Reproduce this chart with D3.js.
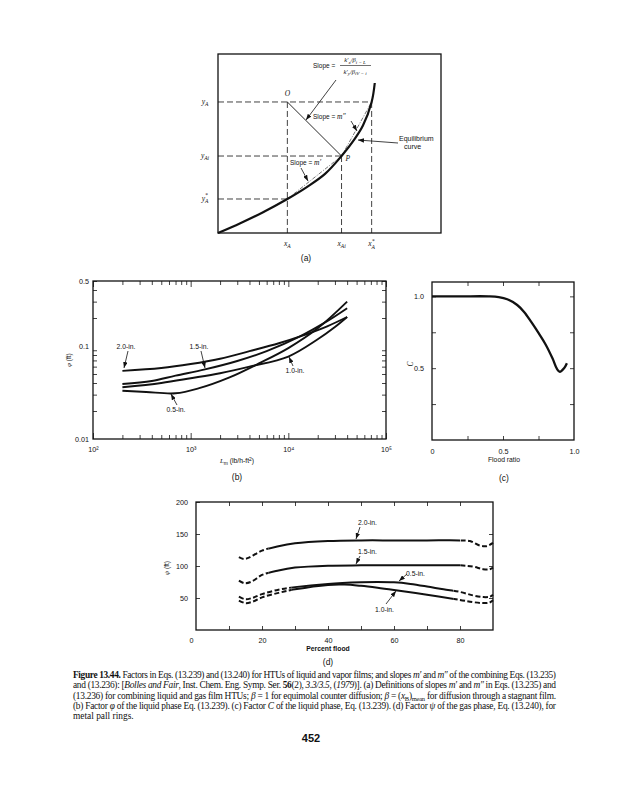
<!DOCTYPE html>
<html>
<head>
<meta charset="utf-8">
<script src="https://cdn.jsdelivr.net/npm/d3@7"></script>
<style>
  body { margin: 0; background: #fff; }
</style>
</head>
<body>
<div id="chart"></div>
<script>
// ---- panel (a): schematic equilibrium curve (arbitrary units 0..1)
const eqCurve = [[0, 0], [0.1, 0.055], [0.2, 0.115], [0.311, 0.19], [0.4, 0.258], [0.48, 0.33],
  [0.554, 0.43], [0.61, 0.52], [0.65, 0.6], [0.689, 0.732], [0.703, 0.838]];
const aXLevels = [0.311, 0.554, 0.689];   // xA, xAi, x*A
const aYLevels = [0.732, 0.43, 0.19];     // yA, yAi, y*A

// ---- panel (b): phi (ft) vs Lm (lb/h-ft2)
const bSizes = ["2.0-in.", "1.5-in.", "1.0-in.", "0.5-in."];
const phi20 = [[200, 0.054], [500, 0.058], [1000, 0.064], [2000, 0.073], [4000, 0.088], [8000, 0.107], [13000, 0.126], [25000, 0.163], [40000, 0.205]];
const phi15 = [[200, 0.039], [400, 0.042], [700, 0.048], [1400, 0.056], [3000, 0.069], [6000, 0.088], [13000, 0.126], [25000, 0.185], [40000, 0.255]];
const phi10 = [[200, 0.036], [500, 0.040], [1000, 0.045], [2000, 0.051], [4000, 0.06], [10000, 0.077], [20000, 0.118], [30000, 0.16], [40000, 0.205]];
const phi05 = [[200, 0.033], [350, 0.032], [700, 0.031], [1200, 0.035], [2500, 0.046], [5000, 0.065], [10000, 0.095], [20000, 0.155], [40000, 0.3]];
const bMajor = [1e2, 1e3, 1e4, 1e5];
const bYLabels = [0.01, 0.1, 0.5];

// ---- panel (c): C vs flood ratio
const cFlood = [0, 0.2, 0.4, 0.47, 0.53, 0.6, 0.65, 0.7, 0.75, 0.8, 0.85, 0.88, 0.9, 0.93, 0.95];
const cC = [1.0, 1.0, 1.0, 0.995, 0.98, 0.94, 0.89, 0.82, 0.745, 0.665, 0.565, 0.495, 0.475, 0.5, 0.535];

// ---- panel (d): psi (ft) vs percent flood
const dSizes = ["2.0-in.", "1.5-in.", "0.5-in.", "1.0-in."];
const psi20 = [[13, 114], [14.5, 111], [16, 113], [20, 124], [25, 131], [30, 135.5], [40, 139], [50, 140], [60, 140], [70, 140], [80, 140], [83, 139], [86, 132], [88, 131], [90, 136]];
const psi15 = [[13, 77], [14.8, 73], [17, 76], [20, 86], [25, 93], [30, 97.5], [40, 100.5], [50, 101], [60, 101], [70, 101], [80, 101], [84, 99], [87, 95], [89, 95], [90, 97.5]];
const psi05 = [[13, 52], [15, 48], [17, 50], [20, 56], [25, 63], [30, 67], [40, 72], [50, 74.5], [55, 75], [60, 74.5], [65, 72], [70, 68], [75, 63.5], [80, 59.5], [84, 54], [87, 51.5], [89, 52], [90, 55]];
const psi10 = [[13, 46], [15, 42], [17, 44], [20, 51], [25, 58], [30, 63.5], [40, 70.5], [45, 71], [50, 69], [55, 66], [60, 62.5], [70, 55], [80, 47], [84, 43.5], [87, 42], [89, 43], [90, 46.5]];
const dSolidFrom = [22, 22, 29, 29];
const dSolidTo = [80, 80, 78, 78];

const W = 619, H = 800;
const sans = "'Liberation Sans', Arial, sans-serif";
const serif = "'Liberation Serif', 'Times New Roman', serif";
const ink = "#111";

const svg = d3.select("#chart").append("svg")
  .attr("width", W).attr("height", H)
  .style("background", "#fff");

const defs = svg.append("defs");
defs.append("marker").attr("id", "arr")
  .attr("viewBox", "0 0 8 6").attr("refX", 8).attr("refY", 3)
  .attr("markerWidth", 6).attr("markerHeight", 4.5)
  .attr("markerUnits", "userSpaceOnUse").attr("orient", "auto")
  .append("path").attr("d", "M0,0L8,3L0,6z").attr("fill", ink);

const txt = (g, x, y, s, o = {}) => g.append("text")
  .attr("x", x).attr("y", y)
  .attr("text-anchor", o.anchor || "start")
  .attr("font-size", o.size || 7)
  .attr("font-family", o.family || sans)
  .attr("font-style", o.italic ? "italic" : null)
  .attr("font-weight", o.bold ? "bold" : null)
  .attr("fill", ink)
  .text(s);

const arrow = (g, x1, y1, x2, y2, w = 0.8) => g.append("line")
  .attr("x1", x1).attr("y1", y1).attr("x2", x2).attr("y2", y2)
  .attr("stroke", ink).attr("stroke-width", w).attr("marker-end", "url(#arr)");

// italic symbol with subscript / superscript
const symLabel = (g, x, y, main, sub, sup, anchor = "middle") => {
  const t = g.append("text").attr("x", x).attr("y", y).attr("text-anchor", anchor)
    .attr("font-size", 7.5).attr("font-family", serif).attr("font-style", "italic").attr("fill", ink);
  t.append("tspan").text(main);
  if (sup) t.append("tspan").attr("dy", -3.5).attr("font-size", 5.5).text(sup);
  if (sub) t.append("tspan").attr("dx", sup ? -2.8 : 0).attr("dy", sup ? 6 : 2.2).attr("font-size", 5.5).text(sub);
  return t;
};

// =================== (a) ===================
const ax = d3.scaleLinear().domain([0, 1]).range([218, 441]);
const ay = d3.scaleLinear().domain([0, 1]).range([233, 54]);
const ga = svg.append("g");

ga.append("rect").attr("x", ax(0)).attr("y", ay(1))
  .attr("width", ax(1) - ax(0)).attr("height", ay(0) - ay(1))
  .attr("fill", "none").attr("stroke", ink).attr("stroke-width", 1.3);

const [xA, xAi, xAs] = aXLevels;
const [yA, yAi, yAs] = aYLevels;
const dash = (x1, y1, x2, y2) => ga.append("line")
  .attr("x1", ax(x1)).attr("y1", ay(y1)).attr("x2", ax(x2)).attr("y2", ay(y2))
  .attr("stroke", ink).attr("stroke-width", 0.8).attr("stroke-dasharray", "6,3");
dash(0, yA, xAs, yA);
dash(0, yAi, xAi, yAi);
dash(0, yAs, xA, yAs);
dash(xA, yA, xA, 0);
dash(xAi, yAi, xAi, 0);
dash(xAs, yA, xAs, 0);

// chords for slopes m' and m''
ga.append("line").attr("x1", ax(xA)).attr("y1", ay(yAs)).attr("x2", ax(xAi)).attr("y2", ay(yAi))
  .attr("stroke", "#555").attr("stroke-width", 0.8).attr("stroke-dasharray", "4,1.5,1,1.5");
ga.append("line").attr("x1", ax(xAi)).attr("y1", ay(yAi)).attr("x2", ax(xAs)).attr("y2", ay(yA))
  .attr("stroke", "#555").attr("stroke-width", 0.8).attr("stroke-dasharray", "4,1.5,1,1.5");

// O -> P tie line
ga.append("line").attr("x1", ax(xA)).attr("y1", ay(yA)).attr("x2", ax(xAi)).attr("y2", ay(yAi))
  .attr("stroke", ink).attr("stroke-width", 0.9);

ga.append("path").datum(eqCurve)
  .attr("d", d3.line().x(d => ax(d[0])).y(d => ay(d[1])).curve(d3.curveCatmullRom))
  .attr("fill", "none").attr("stroke", ink).attr("stroke-width", 2.2);

txt(ga, ax(xA), ay(yA) - 6, "O", { anchor: "middle", family: serif, italic: true, size: 7.5 });
txt(ga, ax(xAi) + 4, ay(yAi) + 5, "P", { family: serif, italic: true, size: 7.5 });

symLabel(ga, 205, ay(yA) + 2, "y", "A");
symLabel(ga, 205, ay(yAi) + 2, "y", "Ai");
symLabel(ga, 205, ay(yAs) + 2, "y", "A", "*");
symLabel(ga, ax(xA), 246, "x", "A");
symLabel(ga, ax(xAi), 246, "x", "Ai");
symLabel(ga, ax(xAs), 246, "x", "A", "*");

// slope labels
const sl1 = txt(ga, 290, 165, "Slope = ", { size: 6.5 });
sl1.append("tspan").attr("font-family", serif).attr("font-style", "italic").attr("font-size", 7.5).text("m′");
arrow(ga, 301, 168, 308, 181);
const sl2 = txt(ga, 313, 119, "Slope = ", { size: 6.5 });
sl2.append("tspan").attr("font-family", serif).attr("font-style", "italic").attr("font-size", 7.5).text("m″");
arrow(ga, 351, 121, 357, 131);

txt(ga, 313, 68, "Slope =", { size: 6.5 });
const num = ga.append("text").attr("x", 355).attr("y", 62).attr("text-anchor", "middle")
  .attr("font-size", 6.5).attr("font-family", serif).attr("font-style", "italic").attr("fill", ink);
num.append("tspan").text("k′");
num.append("tspan").attr("dy", 1.5).attr("font-size", 5).text("x");
num.append("tspan").attr("dy", -1.5).text("/β");
num.append("tspan").attr("dy", 1.5).attr("font-size", 5).text("i − L");
ga.append("line").attr("x1", 340).attr("x2", 371).attr("y1", 65.5).attr("y2", 65.5)
  .attr("stroke", ink).attr("stroke-width", 0.6);
const den = ga.append("text").attr("x", 355).attr("y", 73.5).attr("text-anchor", "middle")
  .attr("font-size", 6.5).attr("font-family", serif).attr("font-style", "italic").attr("fill", ink);
den.append("tspan").text("k′");
den.append("tspan").attr("dy", 1.5).attr("font-size", 5).text("y");
den.append("tspan").attr("dy", -1.5).text("/β");
den.append("tspan").attr("dy", 1.5).attr("font-size", 5).text("iV − i");
arrow(ga, 336, 80, 306, 120);

txt(ga, 399, 141, "Equilibrium", { size: 7 });
txt(ga, 404, 149, "curve", { size: 7 });
arrow(ga, 398, 143, 358, 140);

txt(ga, 306, 261, "(a)", { anchor: "middle", size: 8.5 });

// =================== (b) ===================
const bx = d3.scaleLog().domain([1e2, 1e5]).range([93, 386]);
const by = d3.scaleLog().domain([0.01, 0.5]).range([439, 281]);
const gb = svg.append("g");
const bW = 386 - 93, bH = 439 - 281;
const sup = { 2: "²", 3: "³", 4: "⁴", 5: "⁵" };

const bxMinor = [], byMinor = [];
for (let d = 2; d < 5; d++) for (let k = 2; k <= 9; k++) bxMinor.push(k * 10 ** d);
for (let k = 2; k <= 9; k++) byMinor.push(k * 0.01);
for (let k = 2; k <= 5; k++) byMinor.push(k * 0.1);

const styleAxis = sel => {
  sel.select(".domain").remove();
  sel.selectAll("line").attr("stroke", ink).attr("stroke-width", 0.8);
  sel.selectAll("text").attr("font-family", sans).attr("font-size", 7.2).attr("fill", ink);
};

gb.append("g").attr("transform", `translate(0,${by(0.01)})`)
  .call(d3.axisBottom(bx).tickValues(bxMinor).tickSize(-4).tickFormat("")).call(styleAxis);
gb.append("g").attr("transform", `translate(0,${by(0.01)})`)
  .call(d3.axisBottom(bx).tickValues(bMajor).tickSize(-6).tickPadding(8)
    .tickFormat(d => "10" + sup[Math.round(Math.log10(d))])).call(styleAxis);
gb.append("g").attr("transform", `translate(0,${by(0.5)})`)
  .call(d3.axisTop(bx).tickValues(bxMinor).tickSize(-4).tickFormat("")).call(styleAxis);
gb.append("g").attr("transform", `translate(0,${by(0.5)})`)
  .call(d3.axisTop(bx).tickValues(bMajor).tickSize(-6).tickFormat("")).call(styleAxis);
gb.append("g").attr("transform", `translate(${bx(1e2)},0)`)
  .call(d3.axisLeft(by).tickValues(byMinor).tickSize(-4).tickFormat("")).call(styleAxis);
gb.append("g").attr("transform", `translate(${bx(1e2)},0)`)
  .call(d3.axisLeft(by).tickValues(bYLabels).tickSize(0).tickPadding(4).tickFormat(d => String(d))).call(styleAxis);
gb.append("g").attr("transform", `translate(${bx(1e5)},0)`)
  .call(d3.axisRight(by).tickValues(byMinor).tickSize(-4).tickFormat("")).call(styleAxis);

gb.append("rect").attr("x", 93).attr("y", 281).attr("width", bW).attr("height", bH)
  .attr("fill", "none").attr("stroke", ink).attr("stroke-width", 1.3);

const bLine = d3.line().x(d => bx(d[0])).y(d => by(d[1])).curve(d3.curveCatmullRom);
[phi20, phi15, phi10, phi05].forEach(s => {
  gb.append("path").datum(s).attr("d", bLine)
    .attr("fill", "none").attr("stroke", ink).attr("stroke-width", 1.9);
});

txt(gb, 126, 349, bSizes[0], { anchor: "middle", size: 6.8 });
arrow(gb, 128, 351, 124, 368);
txt(gb, 199, 349, bSizes[1], { anchor: "middle", size: 6.8 });
arrow(gb, 201, 351, 205, 368);
txt(gb, 295, 373, bSizes[2], { anchor: "middle", size: 6.8 });
arrow(gb, 293, 366, 289, 357);
txt(gb, 176, 412, bSizes[3], { anchor: "middle", size: 6.8 });
arrow(gb, 177, 405, 171, 394);

const yl = gb.append("text").attr("transform", "translate(71,360) rotate(-90)")
  .attr("text-anchor", "middle").attr("font-size", 6.5).attr("font-family", sans).attr("fill", ink);
yl.append("tspan").attr("font-family", serif).attr("font-style", "italic").text("φ");
yl.append("tspan").text(" (ft)");

const xl = gb.append("text").attr("x", 237).attr("y", 463).attr("text-anchor", "middle")
  .attr("font-size", 6.8).attr("font-family", sans).attr("fill", ink);
xl.append("tspan").attr("font-family", serif).attr("font-style", "italic").text("L");
xl.append("tspan").attr("dy", 1.5).attr("font-size", 5).text("m");
xl.append("tspan").attr("dy", -1.5).text(" (lb/h-ft");
xl.append("tspan").attr("dy", -2.5).attr("font-size", 5).text("2");
xl.append("tspan").attr("dy", 2.5).text(")");
txt(gb, 237, 480, "(b)", { anchor: "middle", size: 8.5 });

// =================== (c) ===================
const cx = d3.scaleLinear().domain([0, 1]).range([432, 574]);
const cy = d3.scaleLinear().domain([0, 1.1]).range([440, 282]);
const gc = svg.append("g");

gc.append("g").attr("transform", `translate(0,${cy(0)})`)
  .call(d3.axisBottom(cx).tickValues([0.25, 0.5, 0.75]).tickSize(-4).tickFormat("")).call(styleAxis);
gc.append("g").attr("transform", `translate(0,${cy(0)})`)
  .call(d3.axisBottom(cx).tickValues([0, 0.5, 1]).tickSize(0).tickPadding(9)
    .tickFormat(d => d === 0 ? "0" : d3.format(".1f")(d))).call(styleAxis);
gc.append("g").attr("transform", `translate(0,${cy(1.1)})`)
  .call(d3.axisTop(cx).tickValues([0.25, 0.5, 0.75]).tickSize(-4).tickFormat("")).call(styleAxis);
gc.append("g").attr("transform", `translate(${cx(0)},0)`)
  .call(d3.axisLeft(cy).tickValues([0.25, 0.5, 0.75, 1]).tickSize(-4).tickPadding(8)
    .tickFormat(d => (d === 0.5 || d === 1) ? d3.format(".1f")(d) : "")).call(styleAxis);
gc.append("g").attr("transform", `translate(${cx(1)},0)`)
  .call(d3.axisRight(cy).tickValues([0.25, 0.5, 0.75, 1]).tickSize(-4).tickFormat("")).call(styleAxis);

gc.append("rect").attr("x", cx(0)).attr("y", cy(1.1)).attr("width", cx(1) - cx(0)).attr("height", cy(0) - cy(1.1))
  .attr("fill", "none").attr("stroke", ink).attr("stroke-width", 1.3);

gc.append("path").datum(d3.zip(cFlood, cC))
  .attr("d", d3.line().x(d => cx(d[0])).y(d => cy(d[1])).curve(d3.curveCatmullRom))
  .attr("fill", "none").attr("stroke", ink).attr("stroke-width", 2.3);

gc.append("text").attr("transform", "translate(413,364) rotate(-90)").attr("text-anchor", "middle")
  .attr("font-size", 7.5).attr("font-family", serif).attr("font-style", "italic").attr("fill", ink).text("C");
txt(gc, 504, 462, "Flood ratio", { anchor: "middle", size: 6.8 });
txt(gc, 504, 481, "(c)", { anchor: "middle", size: 8.5 });

// =================== (d) ===================
const dx = d3.scaleLinear().domain([0, 90]).range([196, 493]);
const dy = d3.scaleLinear().domain([0, 200]).range([630, 502]);
const gd = svg.append("g");
const dTicks = d3.range(10, 90, 10);

gd.append("g").attr("transform", `translate(0,${dy(0)})`)
  .call(d3.axisBottom(dx).tickValues(dTicks).tickSize(-4).tickFormat("")).call(styleAxis);
gd.append("g").attr("transform", `translate(0,${dy(0)})`)
  .call(d3.axisBottom(dx).tickValues([0, 20, 40, 60, 80]).tickSize(0).tickPadding(8)).call(styleAxis)
  .selectAll(".tick text").attr("dx", d => d === 0 ? -5 : 0);
gd.append("g").attr("transform", `translate(0,${dy(200)})`)
  .call(d3.axisTop(dx).tickValues(dTicks).tickSize(-4).tickFormat("")).call(styleAxis);
gd.append("g").attr("transform", `translate(${dx(0)},0)`)
  .call(d3.axisLeft(dy).tickValues([50, 100, 150, 200]).tickSize(-4).tickPadding(8)).call(styleAxis);
gd.append("g").attr("transform", `translate(${dx(90)},0)`)
  .call(d3.axisRight(dy).tickValues([50, 100, 150]).tickSize(-4).tickFormat("")).call(styleAxis);

gd.append("rect").attr("x", dx(0)).attr("y", dy(200)).attr("width", dx(90) - dx(0)).attr("height", dy(0) - dy(200))
  .attr("fill", "none").attr("stroke", ink).attr("stroke-width", 1.3);

const dLine = d3.line().x(d => dx(d[0])).y(d => dy(d[1])).curve(d3.curveCatmullRom);
[psi20, psi15, psi05, psi10].forEach((s, i) => {
  const solidClip = defs.append("clipPath").attr("id", "ds" + i);
  solidClip.append("rect").attr("x", dx(dSolidFrom[i])).attr("y", 0)
    .attr("width", dx(dSolidTo[i]) - dx(dSolidFrom[i])).attr("height", H);
  const dashClip = defs.append("clipPath").attr("id", "dd" + i);
  dashClip.append("rect").attr("x", 0).attr("y", 0).attr("width", dx(dSolidFrom[i])).attr("height", H);
  dashClip.append("rect").attr("x", dx(dSolidTo[i])).attr("y", 0).attr("width", W).attr("height", H);
  gd.append("path").datum(s).attr("d", dLine).attr("clip-path", `url(#ds${i})`)
    .attr("fill", "none").attr("stroke", ink).attr("stroke-width", 2);
  gd.append("path").datum(s).attr("d", dLine).attr("clip-path", `url(#dd${i})`)
    .attr("fill", "none").attr("stroke", ink).attr("stroke-width", 2).attr("stroke-dasharray", "5,2.5");
});

txt(gd, 358, 525, dSizes[0], { size: 6.8 });
arrow(gd, 360, 527, 356, 539);
txt(gd, 358, 554, dSizes[1], { size: 6.8 });
arrow(gd, 360, 556, 356, 564);
txt(gd, 406, 576, dSizes[2], { size: 6.8 });
arrow(gd, 407, 574, 399, 581);
txt(gd, 375, 612, dSizes[3], { size: 6.8 });
arrow(gd, 386, 604, 396, 591);

const dyl = gd.append("text").attr("transform", "translate(169,568) rotate(-90)")
  .attr("text-anchor", "middle").attr("font-size", 6.5).attr("font-family", sans).attr("fill", ink);
dyl.append("tspan").attr("font-family", serif).attr("font-style", "italic").text("ψ");
dyl.append("tspan").text(" (ft)");
txt(gd, 328, 651, "Percent flood", { anchor: "middle", size: 6.8, bold: true });
txt(gd, 328, 665, "(d)", { anchor: "middle", size: 8.5 });

// =================== caption ===================
const gcap = svg.append("g").attr("font-family", serif).attr("font-size", 9.4).attr("fill", ink);
const capX = 73, capW = 483;
const capLines = [
  [["Figure 13.44.", "b"], [" Factors in Eqs. (13.239) and (13.240) for HTUs of liquid and vapor films; and slopes "], ["m′", "i"], [" and "], ["m″", "i"], [" of the combining Eqs. (13.235)"]],
  [["and (13.236): ["], ["Bolles and Fair", "i"], [", Inst. Chem. Eng. Symp. Ser. "], ["56", "b"], ["(2), "], ["3.3/3.5", "i"], [", ("], ["1979", "i"], [")]. (a) Definitions of slopes "], ["m′", "i"], [" and "], ["m″", "i"], [" in Eqs. (13.235) and"]],
  [["(13.236) for combining liquid and gas film HTUs; "], ["β", "i"], [" = 1 for equimolal counter diffusion; "], ["β", "i"], [" = ("], ["x", "i"], ["B", "sub"], [")"], ["mean", "sub"], [" for diffusion through a stagnant film."]],
  [["(b) Factor "], ["φ", "i"], [" of the liquid phase Eq. (13.239). (c) Factor "], ["C", "i"], [" of the liquid phase, Eq. (13.239). (d) Factor "], ["ψ", "i"], [" of the gas phase, Eq. (13.240), for"]],
  [["metal pall rings."]]
];
capLines.forEach((parts, li) => {
  const t = gcap.append("text").attr("x", capX).attr("y", 678 + li * 10.3);
  if (li < capLines.length - 1) t.attr("textLength", capW).attr("lengthAdjust", "spacing");
  let shifted = false;
  parts.forEach(([s, st]) => {
    const sp = t.append("tspan").text(s);
    if (st === "b") sp.attr("font-weight", "bold");
    if (st === "i") sp.attr("font-style", "italic");
    if (st === "sub") {
      sp.attr("font-size", 6.5);
      if (!shifted) { sp.attr("dy", 2); shifted = true; }
    } else if (shifted) { sp.attr("dy", -2); shifted = false; }
  });
});

svg.append("text").attr("x", 311).attr("y", 742).attr("text-anchor", "middle")
  .attr("font-family", sans).attr("font-weight", "bold").attr("font-size", 11).attr("fill", ink).text("452");
</script>
</body>
</html>
